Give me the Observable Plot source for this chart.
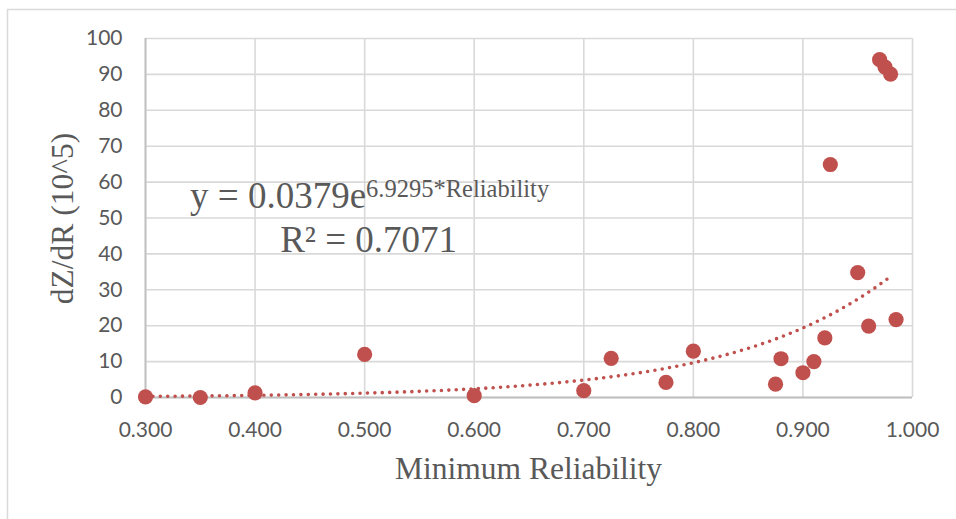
<!DOCTYPE html>
<html>
<head>
<meta charset="utf-8">
<script src="https://cdn.jsdelivr.net/npm/d3@7"></script>
<script src="https://cdn.jsdelivr.net/npm/@observablehq/plot@0.6"></script>
<style>
  html, body { margin: 0; padding: 0; background: #fff; }
  #chart { position: relative; width: 956px; height: 519px; overflow: hidden; }
</style>
</head>
<body>
<div id="chart"></div>
<script>
// ---- data ----
const reliability = [0.300, 0.350, 0.400, 0.500, 0.600, 0.700, 0.725, 0.775, 0.800, 0.875, 0.880, 0.900, 0.910, 0.920, 0.925, 0.950, 0.960, 0.970, 0.975, 0.980, 0.985];
const dzdr        = [0.2,   0.0,   1.3,   12.0,  0.5,   1.9,   10.9,  4.2,   12.9,  3.7,   10.8,  6.9,   10.0,  16.6,  64.9,  34.8,  19.9,  94.1,  92.0,  90.1,  21.7];
const xTicks = [0.3, 0.4, 0.5, 0.6, 0.7, 0.8, 0.9, 1.0];
const yTicks = [0, 10, 20, 30, 40, 50, 60, 70, 80, 90, 100];
// exponential trendline shown on the chart: y = a * e^(b * x)
const trendCoef = [0.0379, 6.9295];
const trendRange = [0.300, 0.980];
const eqMain = "y = 0.0379e";
const eqSup = "6.9295*Reliability";
const r2Text = "R² = 0.7071";
const xTitle = "Minimum Reliability";
const yTitle = "dZ/dR (10^5)";

const points = reliability.map((x, i) => ({x, y: dzdr[i]}));
const trendX = d3.range(trendRange[0], trendRange[1] + 1e-9, 0.0025);
const trend = trendX.map(x => ({x, y: trendCoef[0] * Math.exp(trendCoef[1] * x)}));

const red = "#c0504d";
const gray = "#595959";

const plot = Plot.plot({
  width: 956,
  height: 519,
  marginLeft: 145,
  marginRight: 44,
  marginTop: 38,
  marginBottom: 122,
  style: {fontFamily: "Lato, 'Liberation Sans', sans-serif", fontSize: "21px", color: gray, background: "white"},
  x: {domain: [0.3, 1.0], ticks: xTicks, tickFormat: d3.format(".3f"), label: null},
  y: {domain: [0, 100], ticks: yTicks, label: null},
  marks: [
    Plot.gridX(xTicks, {stroke: "#d9d9d9", strokeOpacity: 1, strokeWidth: 1.6}),
    Plot.gridY(yTicks, {stroke: "#d9d9d9", strokeOpacity: 1, strokeWidth: 1.6}),
    Plot.ruleY([0], {stroke: "#bfbfbf", strokeWidth: 1.8}),
    Plot.ruleX([0.3], {stroke: "#bfbfbf", strokeWidth: 1.8}),
    Plot.axisX(xTicks, {tickSize: 0, tickPadding: 25, tickFormat: d3.format(".3f"), fill: gray, fontSize: 21, label: null}),
    Plot.axisY(yTicks, {tickSize: 0, tickPadding: 23, fill: gray, fontSize: 21, label: null}),
    Plot.line(trend, {x: "x", y: "y", stroke: red, strokeWidth: 3.6, strokeDasharray: "0 7.4", strokeLinecap: "round"}),
    Plot.dot(points, {x: "x", y: "y", r: 7.6, fill: red, stroke: "none"})
  ]
});

document.getElementById("chart").appendChild(plot);

const svg = d3.select(plot);
const sx = plot.scale("x"), sy = plot.scale("y");

// outer chart border (partially visible)
svg.insert("rect", ":first-child")
  .attr("x", 7.5).attr("y", 9.5).attr("width", 1000).attr("height", 1000)
  .attr("fill", "none").attr("stroke", "#d9d9d9").attr("stroke-width", 1.5);

const serif = "'Liberation Serif', 'Times New Roman', serif";

// x title
svg.append("text")
  .attr("x", (sx.apply(0.3) + sx.apply(1.0)) / 2)
  .attr("y", 479)
  .attr("text-anchor", "middle")
  .attr("font-family", serif).attr("font-size", 31.5).attr("fill", gray)
  .text(xTitle);

// y title
const yMid = (sy.apply(0) + sy.apply(100)) / 2;
svg.append("text")
  .attr("transform", `translate(73,${yMid + 1}) rotate(-90)`)
  .attr("text-anchor", "middle")
  .attr("font-family", serif).attr("font-size", 31.5).attr("fill", gray)
  .text(yTitle);

// trendline equation
const eqX = sx.apply(0.505);
const eq = svg.append("text")
  .attr("x", eqX).attr("y", sy.apply(52.7))
  .attr("text-anchor", "middle")
  .attr("font-family", serif).attr("fill", gray);
eq.append("tspan").attr("font-size", 37).text(eqMain);
eq.append("tspan").attr("font-size", 24.5).attr("dy", -11).text(eqSup);

svg.append("text")
  .attr("x", eqX - 1).attr("y", sy.apply(40.4))
  .attr("text-anchor", "middle")
  .attr("font-family", serif).attr("font-size", 37).attr("fill", gray)
  .text(r2Text);
</script>
</body>
</html>
